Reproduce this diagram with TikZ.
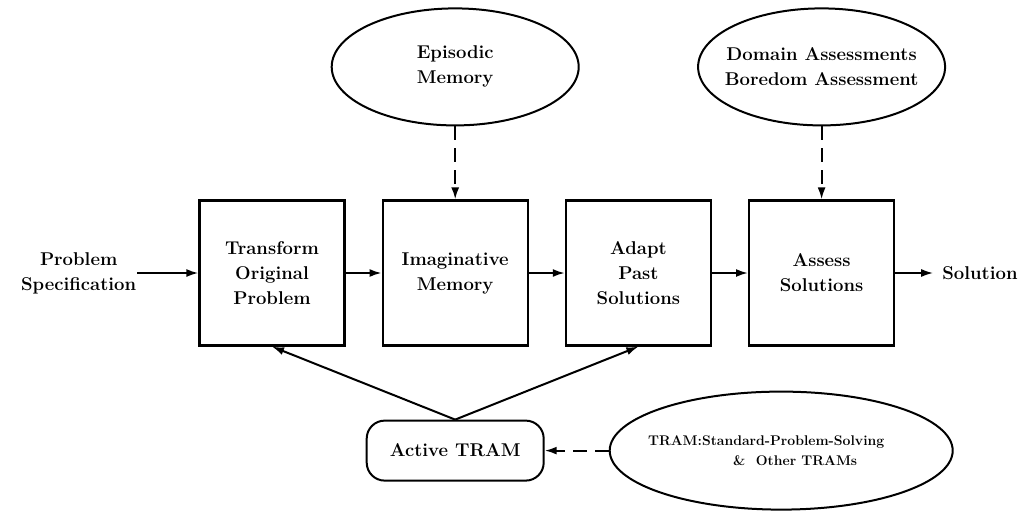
\documentclass[tikz,border=0pt]{standalone}
\usepackage{fontspec}
\usepackage{tikz}
\usetikzlibrary{positioning,arrows.meta,shapes.geometric}

\begin{document}
\begin{tikzpicture}[
  x=1pt, y=-1pt,
  font=\fontsize{18.5}{25}\selectfont\bfseries,
  >={Latex[length=12pt,width=8pt]},
  box/.style={draw, line width=2.2pt, minimum width=145pt, minimum height=145pt,
              inner sep=2pt, align=center},
  memo/.style={draw, ellipse, line width=2pt, minimum width=247pt, minimum height=117pt,
               inner xsep=-25pt, inner ysep=0pt, align=center},
  tram/.style={draw, rounded corners=18pt, line width=2pt, minimum width=177pt,
               minimum height=60pt, align=center},
  flow/.style={->, line width=2pt},
  cue/.style={flow, dash pattern=on 14pt off 8pt},
  node distance=36pt,
]
\useasboundingbox (0,0) rectangle (1028,515);
\node[box] (trans) at (272,273) {Transform\\Original\\Problem};
\node[box, right=of trans] (imag) {Imaginative\\Memory};
\node[box, right=of imag] (adapt) {Adapt\\Past\\Solutions};
\node[box, right=of adapt] (assess) {Assess\\Solutions};
\node[inner sep=1pt, align=center, left=61pt of trans] (spec) {Problem\\Specification};
\node[inner xsep=9pt, inner ysep=1pt, right=38pt of assess] (sol) {Solution};
\node[memo, above=73pt of imag] (epis) {Episodic\\Memory};
\node[memo, above=73pt of assess] (dom) {Domain Assessments\\Boredom Assessment};
\node[tram, below=73pt of imag] (active) {Active TRAM};
\node[memo, minimum width=343pt, minimum height=118pt, right=64pt of active, align=left,
      font=\fontsize{14}{19.5}\selectfont\bfseries] (others)
      {TRAM:Standard-Problem-Solving\hspace*{30pt}\\\hspace*{85pt}\&~~Other TRAMs};

\draw[flow] (spec) -- (trans);
\draw[flow] (trans) -- (imag);
\draw[flow] (imag) -- (adapt);
\draw[flow] (adapt) -- (assess);
\draw[flow] (assess) -- (sol);
\draw[cue] (epis) -- (imag);
\draw[cue] (dom) -- (assess);
\draw[flow] (active.north) -- (trans.south);
\draw[flow] (active.north) -- (adapt.south);
\draw[cue] (others) -- (active);
\end{tikzpicture}
\end{document}
